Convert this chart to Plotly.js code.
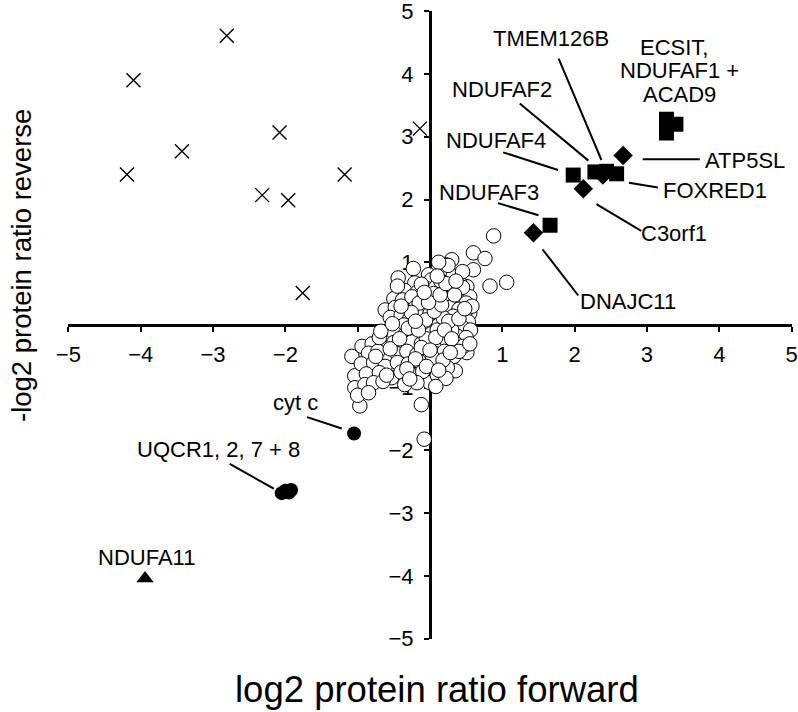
<!DOCTYPE html>
<html>
<head>
<meta charset="utf-8">
<script src="https://cdn.plot.ly/plotly-3.0.1.min.js"></script>
<style>
  body { margin: 0; background: #fff; }
  #chart { width: 798px; height: 712px; }
</style>
</head>
<body>
<div id="chart"></div>
<script>
// open circles: bulk of quantified proteins
const circX = [
  0.88, 0.60, 0.76, 0.30, 0.21, -0.23, -0.44, -0.21, -0.02, 0.18, -0.32, -0.62, -1.08, -0.94, -1.04, -1.04,
  -0.97, 0.00, -0.12, -0.08, 0.35, 0.51, -0.53, -0.65, -0.58, 0.55, 0.51, 0.41, 1.06, 0.83, 0.60, 0.02,
  -0.35, -0.18, -0.05, 0.08, 0.20, 0.30, 0.45, 0.55,
  -0.50, -0.38, -0.25, -0.10, 0.02, 0.12, 0.25, 0.38, 0.50,
  -0.48, -0.20, -0.08, 0.05, 0.15, 0.28, 0.40, 0.48,
  -0.55, -0.40, -0.28, -0.15, -0.03, 0.08, 0.20, 0.32, 0.42, 0.53,
  -0.48, -0.36, -0.22, -0.10, 0.02, 0.12, 0.24, 0.36, 0.46, 0.56,
  -0.62, -0.50, -0.35, -0.22, -0.10, 0.02, 0.15, 0.27, 0.38, 0.50,
  -0.80, -0.50, -0.38, -0.25, -0.12, 0.00, 0.12, 0.24, 0.36, 0.46,
  -0.85, -0.72, -0.45, -0.32, -0.18, -0.05, 0.08, 0.20, 0.33,
  -0.95, -0.78, -0.62, -0.45, -0.30, -0.15, 0.00, 0.12, 0.24,
  -0.88, -0.70, -0.40, -0.25, -0.10, 0.10, 0.22,
  -0.90, -0.78, -0.65, -0.35, -0.18, 0.08, -1.00, -0.85,
  -0.15, 0.00, 0.10, -0.05, 0.18, -0.30, 0.30, 0.05, -0.12, 0.15, 0.32, 0.45, 0.25, 0.12,
  -0.70, -0.75, -0.55, 0.40, 0.55, 0.45, 0.58, -0.45,
  -0.06, 0.06, 0.16, 0.26, -0.16, -0.26, 0.34, -0.02, 0.08, 0.20, -0.12, 0.30,
  0.04, 0.14, -0.08, -0.20, 0.22, 0.40, -0.32, -0.42, 0.10, 0.00, -0.20, 0.18,
  -0.60, -0.68, -0.52, -0.40, 0.28, 0.36, 0.48, -0.05, 0.12, -0.28
];
const circY = [
  1.42, 1.15, 1.06, 1.04, 0.96, 0.90, 0.75, 0.67, 0.80, 0.83, 0.33, 0.24, -0.50, -0.34, -0.81, -1.00,
  -1.29, -0.92, -1.27, -1.82, -0.73, -0.44, -0.84, -0.29, -0.55, 0.19, 0.61, 0.67, 0.68, 0.62, 0.88, 0.72,
  0.55, 0.52, 0.58, 0.60, 0.55, 0.62, 0.50, 0.45,
  0.42, 0.40, 0.45, 0.40, 0.44, 0.38, 0.42, 0.40, 0.35,
  0.28, 0.28, 0.25, 0.30, 0.22, 0.28, 0.25, 0.18,
  0.12, 0.15, 0.10, 0.14, 0.10, 0.15, 0.08, 0.14, 0.08, 0.05,
  -0.02, 0.00, -0.04, 0.02, -0.03, 0.00, -0.02, 0.02, -0.05, -0.08,
  -0.15, -0.12, -0.16, -0.12, -0.18, -0.14, -0.16, -0.12, -0.18, -0.20,
  -0.30, -0.28, -0.32, -0.27, -0.30, -0.28, -0.32, -0.26, -0.30, -0.34,
  -0.45, -0.42, -0.46, -0.42, -0.47, -0.43, -0.46, -0.42, -0.50,
  -0.62, -0.60, -0.66, -0.60, -0.62, -0.58, -0.62, -0.60, -0.68,
  -0.78, -0.76, -0.75, -0.80, -0.74, -0.80, -0.85,
  -0.95, -0.92, -0.90, -0.95, -0.92, -0.98, -1.12, -1.08,
  0.35, 0.18, -0.08, -0.22, 0.12, -0.05, -0.08, 0.50, 0.65, 0.70, 0.78, 0.85, 0.95, 1.00,
  -0.20, -0.50, -0.38, -0.42, -0.30, 0.60, 0.30, 0.62,
  0.08, 0.22, 0.32, 0.06, -0.08, 0.20, 0.48, 0.36, -0.20, -0.08, -0.36, -0.22,
  -0.52, 0.48, 0.52, -0.54, 0.66, 0.10, -0.70, -0.22, 0.78, -0.40, 0.06, -0.56,
  -0.80, -0.10, 0.02, 0.30, -0.44, 0.70, 0.26, -0.66, -0.72, -0.86
];

// crosses
const crossX = [-2.81, -4.10, -3.43, -4.19, -2.08, -2.32, -1.96, -1.18, -1.76, -0.14];
const crossY = [4.61, 3.90, 2.77, 2.40, 3.07, 2.07, 1.99, 2.40, 0.51, 3.13];

// filled squares: ECSIT / NDUFAF1 / ACAD9 block, NDUFAF4, NDUFAF2, FOXRED1, NDUFAF3
const sqX = [3.27, 3.40, 3.27, 1.98, 2.28, 2.58, 2.44, 1.66];
const sqY = [3.28, 3.20, 3.06, 2.39, 2.44, 2.41, 2.45, 1.59];

// filled diamonds: ATP5SL, TMEM126B, C3orf1, DNAJC11
const diaX = [2.67, 2.39, 2.12, 1.43];
const diaY = [2.70, 2.39, 2.17, 1.47];

// filled circles: cyt c, UQCR1, 2, 7, 8
const dotX = [-1.05, -2.05, -2.00, -1.95, -1.92];
const dotY = [-1.73, -2.68, -2.64, -2.67, -2.63];

// triangle: NDUFA11
const triX = [-3.94];
const triY = [-4.04];

// labels
const labelText = ["TMEM126B", "ECSIT,", "NDUFAF1 +", "ACAD9", "NDUFAF2", "NDUFAF4", "NDUFAF3",
  "ATP5SL", "FOXRED1", "C3orf1", "DNAJC11", "cyt c", "UQCR1, 2, 7 + 8", "NDUFA11"];
const labelX = [1.67, 3.38, 3.45, 3.45, 0.99, 0.91, 0.81, 4.35, 3.94, 3.38, 2.74, -1.86, -2.92, -3.92];
const labelY = [4.56, 4.43, 4.05, 3.68, 3.76, 2.94, 2.12, 2.62, 2.15, 1.46, 0.38, -1.24, -1.98, -3.70];

// leader lines (from -> to)
const leadX0 = [1.77, 1.22, 0.99, 0.92, 2.92, 2.73, 2.28, 1.54, -1.72, -2.79];
const leadY0 = [4.27, 3.55, 2.76, 1.95, 2.64, 2.27, 1.94, 1.23, -1.46, -2.20];
const leadX1 = [2.37, 2.19, 1.77, 1.50, 3.73, 3.15, 2.92, 2.05, -1.22, -2.16];
const leadY1 = [2.63, 2.62, 2.47, 1.75, 2.64, 2.19, 1.50, 0.47, -1.65, -2.61];

const font = "Liberation Sans, Arial, Helvetica, sans-serif";
const tickVals = [-5, -4, -3, -2, -1, 1, 2, 3, 4, 5];

const data = [
  {
    x: circX, y: circY, type: "scatter", mode: "markers",
    marker: { symbol: "circle", size: 14.5, color: "#fff", line: { color: "#000", width: 1 } },
  },
  {
    x: crossX, y: crossY, type: "scatter", mode: "markers",
    marker: { symbol: "x-thin-open", size: 14, color: "#000", line: { color: "#000", width: 1.4 } },
  },
  {
    x: sqX, y: sqY, type: "scatter", mode: "markers",
    marker: { symbol: "square", size: 15, color: "#000", line: { width: 0 } },
  },
  {
    x: diaX, y: diaY, type: "scatter", mode: "markers",
    marker: { symbol: "diamond", size: 15, color: "#000", line: { width: 0 } },
  },
  {
    x: dotX, y: dotY, type: "scatter", mode: "markers",
    marker: { symbol: "circle", size: 14, color: "#000", line: { width: 0 } },
  },
  {
    x: triX, y: triY, type: "scatter", mode: "markers",
    marker: { symbol: "triangle-up", size: 15, color: "#000", line: { width: 0 } },
  },
];

const annotations = [];
labelText.forEach(function (t, i) {
  annotations.push({
    x: labelX[i], y: labelY[i], xref: "x", yref: "y", text: t, showarrow: false,
    xanchor: "center", yanchor: "middle", font: { family: font, size: 22, color: "#000" },
  });
});
leadX0.forEach(function (x0, i) {
  annotations.push({
    x: leadX1[i], y: leadY1[i], ax: x0, ay: leadY0[i], xref: "x", yref: "y", axref: "x", ayref: "y",
    text: "", showarrow: true, arrowhead: 0, arrowwidth: 2, arrowcolor: "#000", standoff: 0,
  });
});
annotations.push({
  x: 0.51, y: -0.081, xref: "paper", yref: "paper", text: "log2 protein ratio forward", showarrow: false,
  xanchor: "center", yanchor: "middle", font: { family: font, size: 36.5, color: "#000" },
});
annotations.push({
  x: -0.064, y: 0.595, xref: "paper", yref: "paper", text: "-log2 protein ratio reverse", showarrow: false,
  textangle: -90, xanchor: "center", yanchor: "middle", font: { family: font, size: 27.5, color: "#000" },
});

const layout = {
  width: 798,
  height: 712,
  margin: { l: 68, r: 6, t: 11, b: 73 },
  showlegend: false,
  paper_bgcolor: "#fff",
  plot_bgcolor: "#fff",
  font: { family: font, size: 22, color: "#000" },
  xaxis: {
    range: [-5.005, 5.005], anchor: "free", position: 0.5, showline: true, linewidth: 3, linecolor: "#000",
    ticks: "outside", ticklen: 5, tickwidth: 2, tickcolor: "#000", tickvals: tickVals, ticklabelstandoff: 4,
    ticklabeloverflow: "allow", showgrid: false, zeroline: false, layer: "below traces", tickfont: { size: 22 },
  },
  yaxis: {
    range: [-5.005, 5.005], anchor: "free", position: 0.5, showline: true, linewidth: 3, linecolor: "#000",
    ticks: "outside", ticklen: 5, tickwidth: 2, tickcolor: "#000", tickvals: tickVals, ticklabelstandoff: 6,
    ticklabeloverflow: "allow", showgrid: false, zeroline: false, layer: "below traces", tickfont: { size: 22 },
  },
  annotations: annotations,
};

Plotly.newPlot("chart", data, layout, { staticPlot: true });
</script>
</body>
</html>
